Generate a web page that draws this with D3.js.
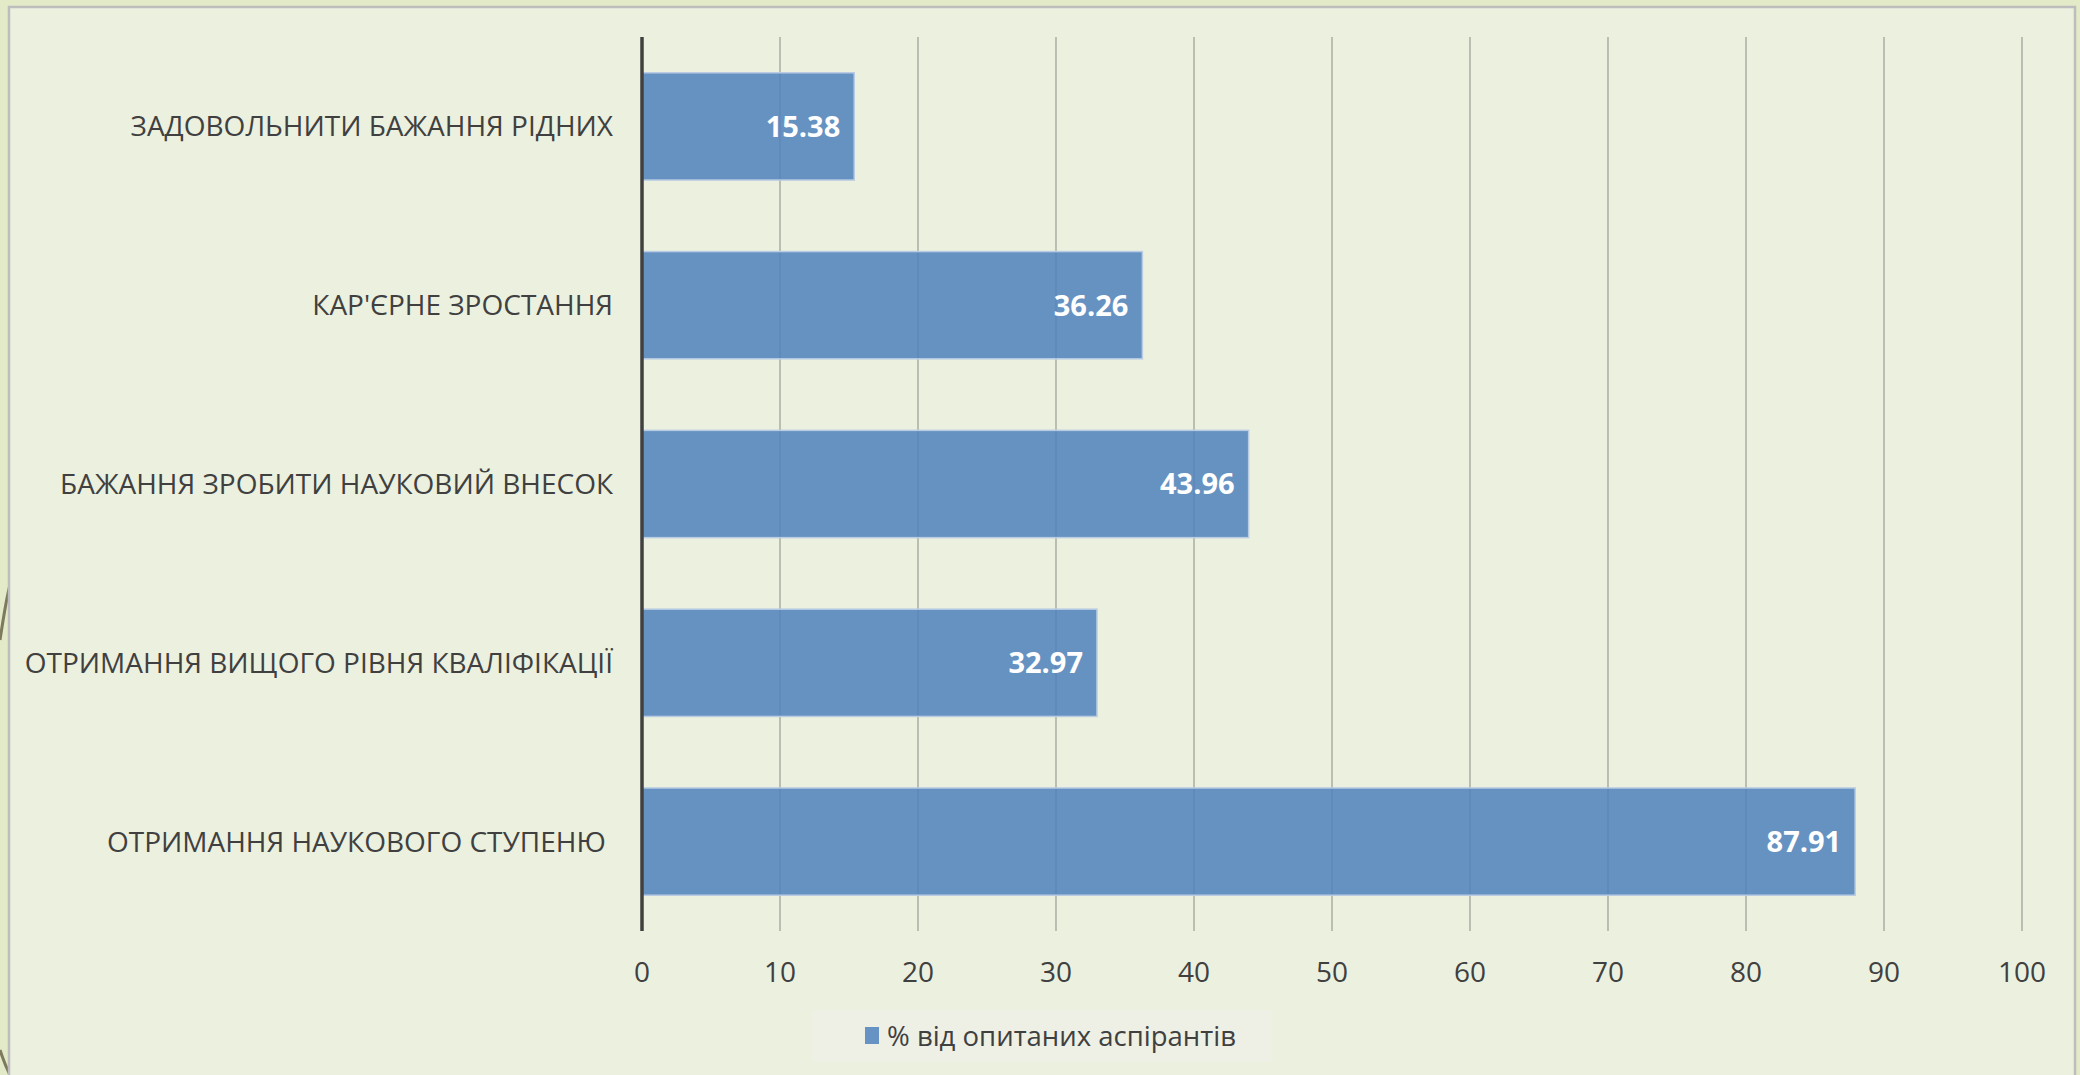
<!DOCTYPE html>
<html lang="uk">
<head>
	<meta charset="UTF-8">
	<title>bar chart</title>
	<script src="https://d3js.org/d3.v7.min.js"></script>
	<style>
		body { margin: 0; background: #f3f5ea; }
		text { font-family: "Open Sans", sans-serif; }
	</style>
</head>
<body>
	<script type="text/javascript">
		var categories = [
			"ЗАДОВОЛЬНИТИ БАЖАННЯ РІДНИХ",
			"КАР'ЄРНЕ ЗРОСТАННЯ",
			"БАЖАННЯ ЗРОБИТИ НАУКОВИЙ ВНЕСОК",
			"ОТРИМАННЯ ВИЩОГО РІВНЯ КВАЛІФІКАЦІЇ",
			"ОТРИМАННЯ НАУКОВОГО СТУПЕНЮ "
		];
		var values = [15.38, 36.26, 43.96, 32.97, 87.91];
		var xTicks = [0, 10, 20, 30, 40, 50, 60, 70, 80, 90, 100];
		var seriesName = "% від опитаних аспірантів";

		var w = 2080;
		var h = 1075;

		var svg = d3.select("body").append("svg").attr("width", w).attr("height", h);

		// slide background strip + chart frame
		svg.append("rect").attr("x", 0).attr("y", 0).attr("width", w).attr("height", h).attr("fill", "#e3eac8");
		svg.append("path")
			.attr("d", "M0,640 Q6,600 10,585 M0,1050 Q5,1065 10,1075")
			.attr("fill", "none").attr("stroke", "#7d7a5e").attr("stroke-width", 3);
		svg.append("rect")
			.attr("x", 9).attr("y", 7).attr("width", 2066).attr("height", 1080)
			.attr("fill", "#ecf0df").attr("stroke", "#bdbdbd").attr("stroke-width", 2.5);

		var xScale = d3.scaleLinear().domain([0, 100]).range([642, 2022]);
		var yScale = d3.scaleBand().domain(categories).range([37, 931]).paddingInner(0.4).paddingOuter(0.2);

		// gridlines
		svg.append("g")
			.selectAll("line")
			.data(xTicks.slice(1))
			.enter()
			.append("line")
			.attr("x1", function(d){ return xScale(d); })
			.attr("x2", function(d){ return xScale(d); })
			.attr("y1", 37).attr("y2", 931)
			.attr("stroke", "#9a9c90").attr("stroke-width", 1.2);

		// bars
		svg.selectAll("rect.bar")
			.data(values)
			.enter()
			.append("rect")
			.attr("class", "bar")
			.attr("x", xScale(0))
			.attr("y", function(d, i){ return yScale(categories[i]); })
			.attr("width", function(d){ return xScale(d) - xScale(0); })
			.attr("height", yScale.bandwidth())
			.attr("fill", "#4f81bd")
			.attr("fill-opacity", 0.85)
			.attr("stroke", "#b9cce4")
			.attr("stroke-width", 1.5);

		// value labels
		svg.selectAll("text.val")
			.data(values)
			.enter()
			.append("text")
			.attr("class", "val")
			.text(function(d){ return d.toFixed(2); })
			.attr("text-anchor", "end")
			.attr("x", function(d){ return xScale(d) - 14; })
			.attr("y", function(d, i){ return yScale(categories[i]) + yScale.bandwidth() / 2; })
			.attr("dy", "0.36em")
			.attr("font-size", "29px")
			.attr("font-weight", "bold")
			.attr("fill", "white");

		// category labels
		svg.selectAll("text.cat")
			.data(categories)
			.enter()
			.append("text")
			.attr("class", "cat")
			.text(function(d){ return d; })
			.attr("text-anchor", "end")
			.attr("x", 613)
			.attr("y", function(d){ return yScale(d) + yScale.bandwidth() / 2; })
			.attr("dy", "0.36em")
			.attr("font-size", "28px")
			.attr("fill", "#404040")
			.style("white-space", "pre");

		// axis line
		svg.append("line")
			.attr("x1", xScale(0)).attr("x2", xScale(0))
			.attr("y1", 37).attr("y2", 931)
			.attr("stroke", "#404040").attr("stroke-width", 3.5);

		// x tick labels
		svg.selectAll("text.tick")
			.data(xTicks)
			.enter()
			.append("text")
			.attr("class", "tick")
			.text(function(d){ return d; })
			.attr("text-anchor", "middle")
			.attr("x", function(d){ return xScale(d); })
			.attr("y", 972)
			.attr("dy", "0.36em")
			.attr("font-size", "28px")
			.attr("fill", "#404040");

		// legend
		svg.append("rect")
			.attr("x", 812).attr("y", 1010).attr("width", 460).attr("height", 52)
			.attr("fill", "#eef0e6");
		svg.append("rect")
			.attr("x", 865).attr("y", 1027).attr("width", 14).attr("height", 17)
			.attr("fill", "#4f81bd").attr("fill-opacity", 0.85);
		svg.append("text")
			.text(seriesName)
			.attr("x", 887).attr("y", 1036)
			.attr("dy", "0.36em")
			.attr("font-size", "27.5px")
			.attr("fill", "#404040");
	</script>
</body>
</html>
